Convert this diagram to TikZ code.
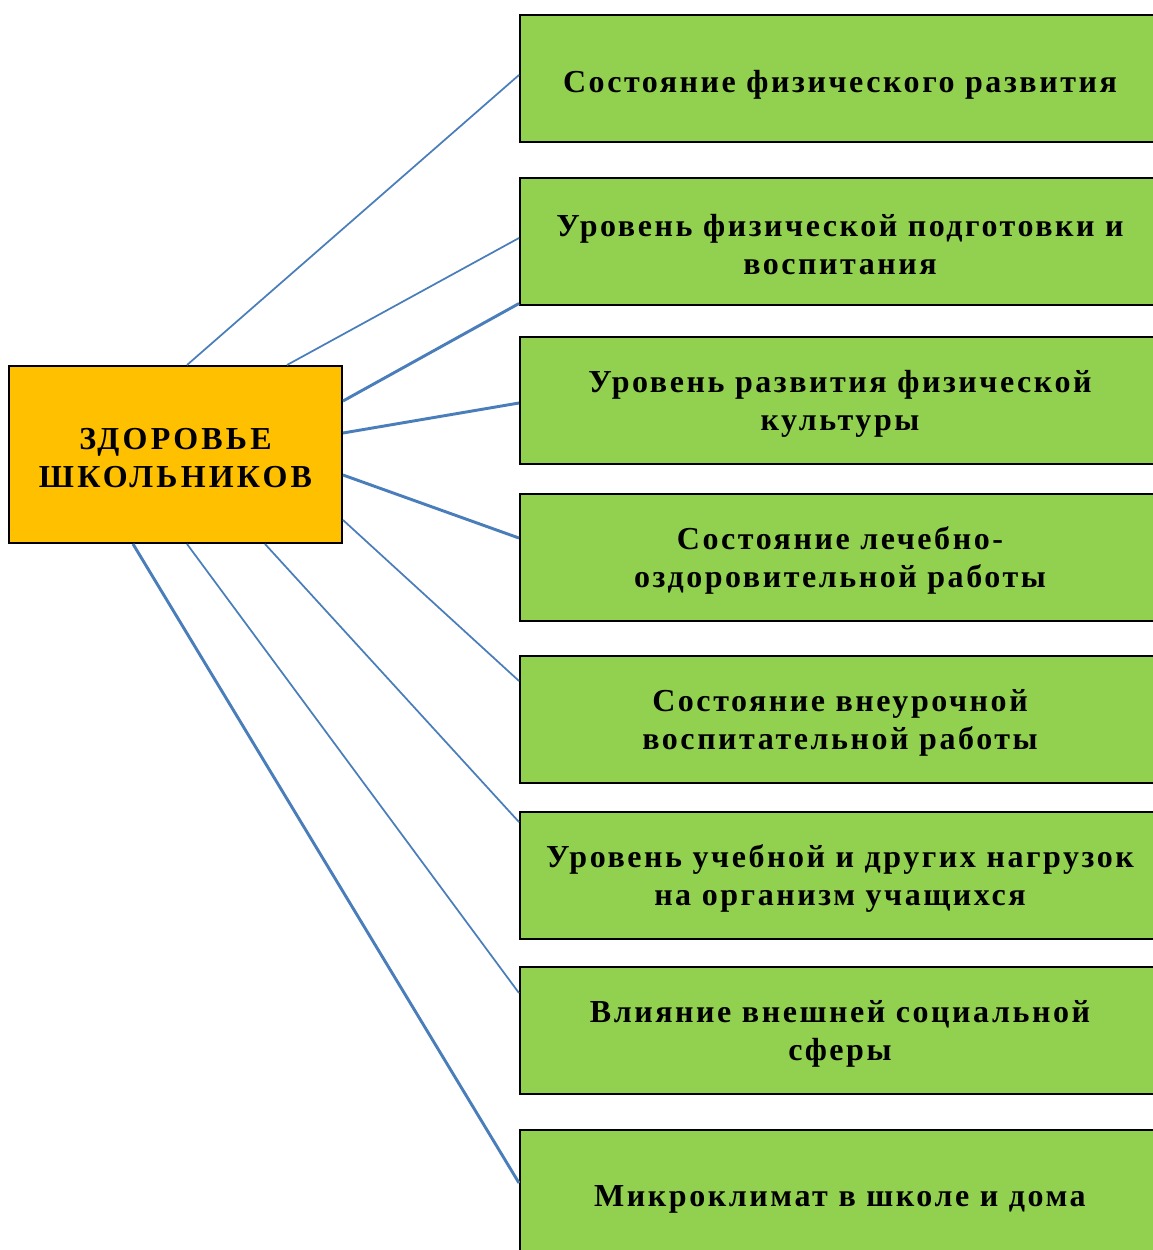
\documentclass[tikz,border=0pt]{standalone}
\usepackage{fontspec}
\setmainfont{Liberation Serif}
\definecolor{leafgreen}{HTML}{92D050}
\definecolor{amber}{HTML}{FFC000}
\definecolor{linkblue}{HTML}{4A7EBB}
\newcommand{\upstrut}[1][22pt]{\rule{0pt}{#1}}
\tikzset{
  factor/.style={draw, line width=1.5pt, fill=leafgreen, minimum width=480pt, minimum height=95.25pt, align=center,
    font=\fontsize{24}{28.5}\selectfont\bfseries\addfontfeatures{LetterSpace=8}},
  link/.style={linkblue, line width=1.3pt},
  boldlink/.style={linkblue, line width=2.2pt}
}
\begin{document}
\begin{tikzpicture}[x=0.75pt, y=-0.75pt]
    \useasboundingbox (0,0) rectangle (1153,1250);
    % Central node
    \node[draw, line width=1.5pt, fill=amber, minimum width=249.75pt, minimum height=132.75pt, align=center,
      font=\fontsize{24}{28.5}\selectfont\bfseries\addfontfeatures{LetterSpace=10}] (health) at (175.5,454.5) {\upstrut[20.5pt]ЗДОРОВЬЕ\\ШКОЛЬНИКОВ};

    % Factors
    \node[factor] (f1) at (840,78) {\upstrut[26.5pt]Состояние физического развития};
    \node[factor] (f2) at (840,241) {\upstrut Уровень физической подготовки и\\воспитания};
    \node[factor] (f3) at (840,400) {\upstrut Уровень развития физической\\культуры};
    \node[factor] (f4) at (840,557.5) {\upstrut Состояние лечебно-\\оздоровительной работы};
    \node[factor] (f5) at (840,719.5) {\upstrut Состояние внеурочной\\воспитательной работы};
    \node[factor] (f6) at (840,875.5) {\upstrut Уровень учебной и других нагрузок\\на организм учащихся};
    \node[factor] (f7) at (840,1030.5) {\upstrut Влияние внешней социальной\\сферы};
    \node[factor] (f8) at (840,1193.5) {\upstrut[24pt]Микроклимат в школе и дома};

    % Links
    \draw[link] ([xshift=134.25pt]health.north west) -- ([yshift=2.25pt]f1.west);
    \draw[link] ([xshift=209.25pt]health.north west) -- ([yshift=2.25pt]f2.west);
    \draw[boldlink] ([yshift=-27pt]health.north east) -- ([yshift=1.5pt]f2.south west);
    \draw[boldlink] ([yshift=-51pt]health.north east) -- ([yshift=-2.25pt]f3.west);
    \draw[boldlink] ([yshift=-82.5pt]health.north east) -- ([yshift=14.6pt]f4.west);
    \draw[link] ([yshift=-116.25pt]health.north east) -- ([yshift=28.9pt]f5.west);
    \draw[link] ([xshift=192.75pt]health.south west) -- ([yshift=40.1pt]f6.west);
    \draw[link] ([xshift=134.25pt]health.south west) -- ([yshift=28.1pt]f7.west);
    \draw[boldlink] ([xshift=93.75pt]health.south west) -- ([yshift=7.9pt]f8.west);
\end{tikzpicture}
\end{document}
